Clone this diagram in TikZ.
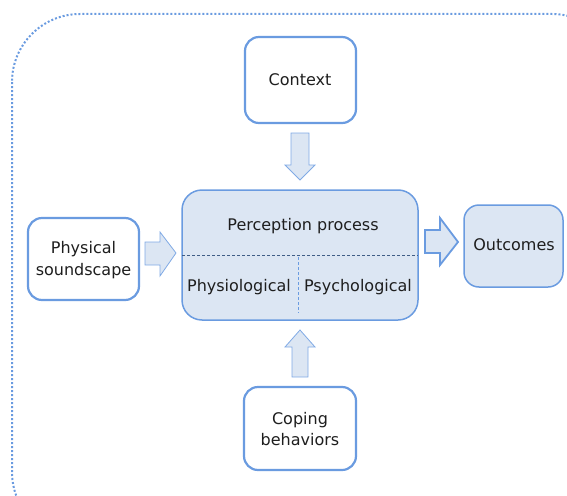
\documentclass[tikz,border=0pt]{standalone}
\usepackage{fontspec}
\setmainfont{DejaVu Sans}
\begin{document}
\begin{tikzpicture}[x=1pt,y=-1pt,
  box/.style={draw=boxblue, line width=2.2pt, rounded corners=14pt, fill=white},
  lbl/.style={font=\fontsize{16}{21.5}\selectfont, text=txtgray, align=center},
  barrow/.style={draw=boxblue!85, fill=arrowfill, line width=0.8pt, line join=miter}
]
\definecolor{boxblue}{HTML}{6A9BE0}
\definecolor{arrowfill}{HTML}{DCE6F3}
\definecolor{txtgray}{HTML}{1E1E1E}
\useasboundingbox (0,0) rectangle (567,495);
\begin{scope}
\clip (0,0) rectangle (567,495);
\draw[boxblue, line width=2pt, dotted, rounded corners=68pt] (12,14) rectangle (620,540);
\end{scope}
% boxes
\draw[box] (245,37) rectangle (356,123);
\node[lbl] (ctx) at (300,80) {Context};
\draw[box] (28,218) rectangle (139,300);
\node[lbl] (phys) at (83.5,260) {Physical\\soundscape};
\draw[box] (244,387) rectangle (356,470);
\node[lbl] (cope) at (300,429) {Coping\\behaviors};
\draw[draw=boxblue, line width=1.5pt, fill=arrowfill, rounded corners=15pt] (464,205) rectangle (563,287);
\node[lbl] (out) at (514,245) {Outcomes};
\draw[draw=boxblue, line width=1.5pt, fill=arrowfill, rounded corners=20pt] (182,190) rectangle (418,320);
\node[lbl] (perc) at (303,226) {Perception process};
\draw[boxblue!60!black, densely dashed, line width=0.6pt] (182,255) -- (418,255);
\draw[boxblue, densely dashed, line width=0.6pt] (298,257) -- (298,313);
\node[lbl] (physio) at (239,287) {Physiological};
\node[lbl] (psych) at (358,287) {Psychological};
% block arrows
\draw[barrow] (291,133) -- (309,133) -- (309,165) -- (315,165) -- (300,180) -- (285,165) -- (291,165) -- cycle;
\draw[barrow] (292,377) -- (308,377) -- (308,347) -- (315,347) -- (300,330) -- (285,347) -- (292,347) -- cycle;
\draw[barrow] (145,242) -- (160,242) -- (160,232) -- (176,253) -- (160,276) -- (160,265) -- (145,265) -- cycle;
\draw[barrow, line width=1.8pt, draw=boxblue] (425,230) -- (440,230) -- (440,218) -- (458,242) -- (440,265) -- (440,253) -- (425,253) -- cycle;
\end{tikzpicture}
\end{document}
